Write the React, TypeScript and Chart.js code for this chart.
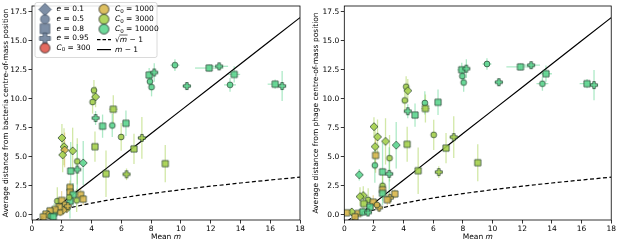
import React, { useEffect, useRef } from "react";
import { Chart, registerables } from "chart.js";
Chart.register(...registerables);

// ---------- axes ----------
const X_TICKS = [0, 2, 4, 6, 8, 10, 12, 14, 16, 18];
const Y_TICKS = [0, 2.5, 5, 7.5, 10, 12.5, 15, 17.5];
const X_MIN = 0;
const X_MAX = 18;
const Y_MIN = -0.45;
const Y_MAX = 18.0;

// ---------- categories ----------
const E_VALUES = [0.1, 0.5, 0.8, 0.95];
const E_SHAPES = ["diamond", "circle", "square", "plus"];
const C0_VALUES = [300, 1000, 3000, 10000];
const C0_COLORS = ["#e05a4f", "#d9b84f", "#a6d24f", "#5ed690"];

// ---------- reference curves (m grid) ----------
const CURVE_M = [0, 0.25, 0.3, 0.4, 0.5, 0.6, 0.75, 1, 1.25, 1.5, 2, 2.5, 3, 4, 5, 6, 7, 8, 10, 12, 14, 16, 18];

// ---------- bacteria panel ----------
const bactM = [7.87, 8.21, 7.92, 8.03, 9.6, 11.9, 12.57, 13.58, 13.3, 10.4, 16.33, 16.8, 8.95, 4.16, 4.27, 4.07, 5.46, 4.27, 4.74, 5.39, 6.31, 5.99, 7.38, 6.85, 4.23, 2.01, 2.15, 2.19, 2.06, 2.73, 3.04, 3.44, 3.04, 2.6, 4.97, 6.35, 2.55, 2.55, 2.77, 3.27, 3.44, 1.7, 1.99, 2.21, 2.55, 2.5, 3.0, 2.33, 2.1, 1.83, 1.48, 1.54, 1.21, 0.94, 1.1, 1.25, 0.76, 1.43, 2.4, 1.9];
const bactD = [12.05, 12.27, 11.49, 11.01, 12.9, 12.65, 12.8, 12.1, 11.2, 11.1, 11.26, 11.1, 4.41, 10.73, 10.17, 9.72, 9.1, 8.34, 7.64, 7.7, 7.89, 6.71, 6.63, 5.68, 5.87, 6.63, 5.87, 5.59, 5.17, 5.51, 4.6, 4.47, 3.9, 3.77, 3.54, 3.49, 2.36, 1.94, 1.74, 1.74, 1.35, 1.18, 1.24, 0.9, 1.18, 1.5, 1.24, 0.54, 0.4, 0.68, 0.17, 0.45, 0.34, 0.06, -0.03, -0.1, -0.17, -0.17, 0.75, 0.2];
const bactE = [0.8, 0.95, 0.5, 0.5, 0.5, 0.8, 0.95, 0.8, 0.5, 0.95, 0.8, 0.95, 0.8, 0.5, 0.1, 0.5, 0.8, 0.95, 0.8, 0.5, 0.8, 0.5, 0.95, 0.8, 0.8, 0.1, 0.1, 0.1, 0.1, 0.1, 0.5, 0.1, 0.95, 0.8, 0.8, 0.95, 0.8, 0.8, 0.8, 0.8, 0.8, 0.5, 0.8, 0.5, 0.8, 0.5, 0.5, 0.1, 0.1, 0.8, 0.8, 0.8, 0.8, 0.8, 0.1, 0.5, 0.8, 0.8, 0.95, 0.5];
const bactC0 = [10000, 10000, 10000, 10000, 10000, 10000, 10000, 10000, 10000, 10000, 10000, 10000, 3000, 3000, 3000, 3000, 3000, 10000, 10000, 10000, 10000, 3000, 3000, 3000, 3000, 3000, 3000, 1000, 3000, 3000, 3000, 10000, 10000, 10000, 3000, 3000, 1000, 1000, 10000, 1000, 1000, 3000, 1000, 1000, 10000, 3000, 3000, 1000, 1000, 1000, 10000, 1000, 1000, 1000, 1000, 10000, 1000, 10000, 1000, 1000];
const bactXErr = [0, 0, 0, 0, 0.3, 0.95, 0.6, 0.4, 0.4, 0.3, 0.5, 0, 0, 0, 0, 0, 0.3, 0, 0, 0, 0, 0, 0.3, 0, 0, 0, 0, 0, 0, 0, 0, 0, 0, 0, 0, 0.25, 0, 0, 0, 0, 0, 0, 0, 0, 0, 0, 0, 0, 0, 0, 0, 0, 0, 0, 0, 0, 0, 0, 0, 0];
const bactYErr = [0.6, 0.8, 0.7, 0.8, 0.5, 0.3, 0.2, 0.7, 0.6, 0.3, 0.4, 1.3, 1.6, 0.9, 0.9, 1.0, 1.2, 0.6, 1.0, 1.0, 1.1, 1.2, 1.8, 1.3, 1.3, 1.2, 1.6, 1.5, 1.5, 2.0, 2.0, 1.9, 2.2, 2.5, 2.0, 0.5, 0.6, 0.6, 1.0, 0.5, 0.5, 1.2, 0.8, 0.6, 1.5, 1.2, 1.0, 0.4, 0.4, 0.6, 0.8, 0.5, 0.3, 0.3, 0.2, 0.3, 0.2, 0.3, 0.4, 0.3];

// ---------- phage panel ----------
const phageM = [1.01, 2.0, 2.24, 2.08, 2.78, 3.5, 2.11, 2.06, 3.05, 2.58, 3.03, 4.24, 4.17, 4.28, 4.08, 4.28, 4.77, 5.43, 5.47, 6.32, 6.03, 6.86, 7.38, 4.98, 6.37, 7.92, 8.23, 7.96, 8.05, 9.62, 11.88, 12.6, 13.6, 13.36, 10.42, 16.37, 16.84, 9.0, 2.58, 2.58, 2.58, 3.41, 3.07, 1.28, 1.06, 1.61, 1.95, 1.32, 1.73, 2.35, 0.5, 0.16, 0.94, 1.24, 0.72, 2.9, 1.6, 2.2];
const phageD = [3.45, 7.6, 6.72, 5.88, 6.33, 6.0, 5.12, 4.26, 4.88, 3.7, 3.53, 6.08, 11.04, 10.7, 9.86, 8.93, 8.6, 9.64, 9.16, 9.7, 6.89, 5.75, 6.7, 3.8, 3.68, 12.5, 12.6, 11.95, 11.4, 13.0, 12.75, 12.9, 12.16, 11.3, 11.43, 11.3, 11.18, 4.49, 2.5, 2.16, 1.85, 1.8, 1.46, 1.66, 1.57, 1.29, 1.09, 0.96, 0.67, 0.62, 0.25, 0.17, 0.12, 0.25, -0.17, 1.3, 0.2, 0.85];
const phageE = [0.1, 0.1, 0.1, 0.1, 0.1, 0.1, 0.8, 0.5, 0.5, 0.8, 0.95, 0.8, 0.5, 0.1, 0.5, 0.95, 0.8, 0.5, 0.8, 0.8, 0.5, 0.8, 0.95, 0.8, 0.95, 0.8, 0.95, 0.5, 0.5, 0.5, 0.8, 0.95, 0.8, 0.5, 0.95, 0.8, 0.95, 0.8, 0.5, 0.8, 0.8, 0.8, 0.95, 0.1, 0.1, 0.5, 0.8, 0.8, 0.8, 0.95, 0.1, 0.8, 0.8, 0.8, 0.8, 0.8, 0.95, 0.5];
const phageC0 = [10000, 3000, 3000, 3000, 3000, 10000, 1000, 10000, 3000, 10000, 10000, 3000, 3000, 3000, 3000, 10000, 10000, 10000, 3000, 10000, 3000, 3000, 3000, 3000, 3000, 10000, 10000, 10000, 10000, 10000, 10000, 10000, 10000, 10000, 10000, 10000, 10000, 3000, 3000, 1000, 10000, 1000, 1000, 3000, 3000, 3000, 1000, 3000, 10000, 1000, 3000, 1000, 1000, 10000, 1000, 1000, 10000, 1000];
const phageXErr = [0, 0, 0, 0, 0, 0, 0, 0, 0, 0, 0, 0, 0, 0, 0, 0, 0, 0, 0.3, 0, 0, 0, 0.3, 0, 0.25, 0.3, 0, 0, 0, 0.3, 0.95, 0.6, 0.4, 0.4, 0.3, 0.5, 0, 0, 0, 0, 0, 0, 0, 0, 0, 0, 0, 0, 0, 0, 0, 0, 0, 0, 0, 0, 0, 0];
const phageYErr = [0.5, 0.8, 1.5, 2.0, 2.0, 2.0, 1.5, 1.5, 2.0, 2.5, 2.3, 1.5, 0.9, 1.0, 1.0, 0.6, 1.0, 1.0, 1.2, 1.1, 1.3, 1.3, 1.8, 2.0, 0.5, 0.6, 0.8, 0.7, 0.8, 0.5, 0.3, 0.2, 0.7, 0.6, 0.3, 0.4, 1.3, 1.6, 1.0, 0.6, 1.0, 0.4, 0.5, 0.8, 0.8, 1.0, 0.6, 0.6, 0.6, 0.4, 0.3, 0.2, 0.2, 0.4, 0.2, 0.5, 0.3, 0.5];

// ---------- styling ----------
const FONT = '"DejaVu Sans", sans-serif';
const FS = 7.5;
const SHAPE_LEGEND_COLOR = "#6f829b";

const markerCache: Record<string, HTMLCanvasElement> = {};
function shapePath(ctx: CanvasRenderingContext2D, shape: string, c: number, k: number) {
  ctx.beginPath();
  if (shape === "circle") {
    ctx.arc(c, c, 2.9 * k, 0, Math.PI * 2);
  } else if (shape === "square") {
    const h = 3.1 * k;
    ctx.rect(c - h, c - h, 2 * h, 2 * h);
  } else if (shape === "diamond") {
    const h = 4.0 * k;
    ctx.moveTo(c, c - h);
    ctx.lineTo(c + h, c);
    ctx.lineTo(c, c + h);
    ctx.lineTo(c - h, c);
    ctx.closePath();
  } else {
    const L = 3.5 * k;
    const w = 1.25 * k;
    ctx.moveTo(c - w, c - L);
    ctx.lineTo(c + w, c - L);
    ctx.lineTo(c + w, c - w);
    ctx.lineTo(c + L, c - w);
    ctx.lineTo(c + L, c + w);
    ctx.lineTo(c + w, c + w);
    ctx.lineTo(c + w, c + L);
    ctx.lineTo(c - w, c + L);
    ctx.lineTo(c - w, c + w);
    ctx.lineTo(c - L, c + w);
    ctx.lineTo(c - L, c - w);
    ctx.lineTo(c - w, c - w);
    ctx.closePath();
  }
}
function marker(shape: string, fill: string, k = 1, stroke = "rgba(35,60,45,0.9)") {
  const key = shape + fill + k + stroke;
  if (markerCache[key]) return markerCache[key];
  const size = Math.ceil(12 * k);
  const cv = document.createElement("canvas");
  cv.width = size;
  cv.height = size;
  const ctx = cv.getContext("2d")!;
  shapePath(ctx, shape, size / 2, k);
  ctx.globalAlpha = 0.9;
  ctx.fillStyle = fill;
  ctx.fill();
  ctx.globalAlpha = 1;
  ctx.lineWidth = 0.8;
  ctx.strokeStyle = stroke;
  ctx.stroke();
  markerCache[key] = cv;
  return cv;
}
const shapeOf = (e: number) => E_SHAPES[E_VALUES.indexOf(e)];
const colorOf = (c: number) => C0_COLORS[C0_VALUES.indexOf(c)];

function hexA(hex: string, a: number) {
  const n = parseInt(hex.slice(1), 16);
  return `rgba(${(n >> 16) & 255},${(n >> 8) & 255},${n & 255},${a})`;
}

type Part = { t: string; it?: boolean; sub?: boolean; over?: boolean };
function drawRich(ctx: CanvasRenderingContext2D, parts: Part[], x: number, y: number, measureOnly = false) {
  let cx = x;
  for (const p of parts) {
    const size = p.sub ? 5.5 : FS;
    ctx.font = `${p.it ? "italic " : ""}${size}px ${FONT}`;
    const w = ctx.measureText(p.t).width;
    if (!measureOnly) {
      ctx.fillText(p.t, cx, y + (p.sub ? 2 : 0));
      if (p.over) {
        ctx.beginPath();
        ctx.moveTo(cx - 0.5, y - 4.6);
        ctx.lineTo(cx + w + 0.5, y - 4.6);
        ctx.lineWidth = 0.6;
        ctx.strokeStyle = "#000";
        ctx.stroke();
      }
    }
    cx += w;
  }
  return cx - x;
}

const errorBarPlugin = {
  id: "errorBars",
  beforeDatasetsDraw(chart: any) {
    const ds = chart.data.datasets[0];
    const xs = chart.scales.x;
    const ys = chart.scales.y;
    const ctx = chart.ctx;
    const a = chart.chartArea;
    ctx.save();
    ctx.beginPath();
    ctx.rect(a.left, a.top, a.right - a.left, a.bottom - a.top);
    ctx.clip();
    ctx.lineWidth = 1.3;
    ds.data.forEach((p: any, i: number) => {
      ctx.strokeStyle = hexA(ds.errColor[i], 0.5);
      const px = xs.getPixelForValue(p.x);
      const py = ys.getPixelForValue(p.y);
      const ye = ds.yErr[i];
      const xe = ds.xErr[i];
      if (ye > 0) {
        ctx.beginPath();
        ctx.moveTo(px, ys.getPixelForValue(p.y - ye));
        ctx.lineTo(px, ys.getPixelForValue(p.y + ye));
        ctx.stroke();
      }
      if (xe > 0) {
        ctx.beginPath();
        ctx.moveTo(xs.getPixelForValue(p.x - xe), py);
        ctx.lineTo(xs.getPixelForValue(p.x + xe), py);
        ctx.stroke();
      }
    });
    ctx.restore();
  },
};

const framePlugin = {
  id: "frame",
  afterDraw(chart: any) {
    const ctx = chart.ctx;
    const a = chart.chartArea;
    ctx.save();
    ctx.strokeStyle = "#000";
    ctx.lineWidth = 0.8;
    ctx.strokeRect(a.left, a.top, a.right - a.left, a.bottom - a.top);
    ctx.fillStyle = "#000";
    ctx.textBaseline = "middle";
    const parts: Part[] = [{ t: "Mean " }, { t: "m", it: true }];
    const w = drawRich(ctx, parts, 0, 0, true);
    drawRich(ctx, parts, (a.left + a.right) / 2 - w / 2, 237.5);
    ctx.restore();
  },
};

const legendPlugin = {
  id: "innerLegend",
  afterDraw(chart: any) {
    if (!chart.options.plugins.innerLegend?.show) return;
    const ctx = chart.ctx;
    ctx.save();
    const bx = 35, by = 2.5, bw = 122, bh = 55, r = 2;
    ctx.beginPath();
    ctx.moveTo(bx + r, by);
    ctx.arcTo(bx + bw, by, bx + bw, by + bh, r);
    ctx.arcTo(bx + bw, by + bh, bx, by + bh, r);
    ctx.arcTo(bx, by + bh, bx, by, r);
    ctx.arcTo(bx, by, bx + bw, by, r);
    ctx.closePath();
    ctx.fillStyle = "rgba(255,255,255,0.85)";
    ctx.fill();
    ctx.strokeStyle = "#d0d0d0";
    ctx.lineWidth = 0.8;
    ctx.stroke();

    ctx.textBaseline = "middle";
    ctx.fillStyle = "#000";
    const rows1 = [9.5, 19.2, 28.8, 38.4, 48];
    const rows2 = [9.3, 19.2, 29.1, 39.6, 49.6];
    const shapeStroke = "rgba(70,85,105,0.95)";
    E_SHAPES.forEach((s, i) => {
      const img = marker(s, SHAPE_LEGEND_COLOR, 1.55, shapeStroke);
      ctx.drawImage(img, 45 - img.width / 2, rows1[i] - img.height / 2);
      ctx.fillStyle = "#000";
      drawRich(ctx, [{ t: "e", it: true }, { t: " = " + E_VALUES[i] }], 56.5, rows1[i]);
    });
    const c0Rows = [rows1[4], rows2[0], rows2[1], rows2[2]];
    const c0X = [45, 104, 104, 104];
    const c0T = [56.5, 115, 115, 115];
    C0_VALUES.forEach((c, i) => {
      const img = marker("circle", C0_COLORS[i], 1.7, "rgba(20,20,20,0.9)");
      ctx.drawImage(img, c0X[i] - img.width / 2, c0Rows[i] - img.height / 2);
      ctx.fillStyle = "#000";
      drawRich(ctx, [{ t: "C", it: true }, { t: "0", sub: true }, { t: " = " + c }], c0T[i], c0Rows[i]);
    });
    ctx.strokeStyle = "#000";
    ctx.lineWidth = 1.2;
    ctx.setLineDash([3.5, 2]);
    ctx.beginPath();
    ctx.moveTo(97, rows2[3]);
    ctx.lineTo(111, rows2[3]);
    ctx.stroke();
    ctx.setLineDash([]);
    ctx.beginPath();
    ctx.moveTo(97, rows2[4]);
    ctx.lineTo(111, rows2[4]);
    ctx.stroke();
    ctx.fillStyle = "#000";
    drawRich(ctx, [{ t: "√" }, { t: "m", it: true, over: true }, { t: " − 1" }], 115, rows2[3]);
    drawRich(ctx, [{ t: "m", it: true }, { t: " − 1" }], 115, rows2[4]);
    ctx.restore();
  },
};

type PanelProps = {
  m: number[]; d: number[]; e: number[]; c0: number[]; xe: number[]; ye: number[];
  yTitle: string; legend: boolean; left: number; width: number; yAxisWidth: number; rightPad: number;
};

function Panel(props: PanelProps) {
  const ref = useRef<HTMLCanvasElement>(null);
  useEffect(() => {
    const { m, d, e, c0, xe, ye } = props;
    const points = m.map((v, i) => ({ x: v, y: d[i] }));
    const styles = m.map((_, i) => marker(shapeOf(e[i]), colorOf(c0[i])));
    const chart = new Chart(ref.current!, {
      type: "scatter",
      data: {
        datasets: [
          {
            data: points,
            pointStyle: styles as any,
            pointRadius: 4,
            pointHoverRadius: 4,
            order: 0,
            xErr: xe,
            yErr: ye,
            errColor: c0.map(colorOf),
          } as any,
          {
            data: CURVE_M.map((v) => ({ x: v, y: v - 1 })),
            showLine: true,
            borderColor: "#000",
            borderWidth: 1.2,
            pointRadius: 0,
            order: 1,
          },
          {
            data: CURVE_M.map((v) => ({ x: v, y: Math.sqrt(v) - 1 })),
            showLine: true,
            borderColor: "#000",
            borderWidth: 1.2,
            borderDash: [4, 2.5],
            pointRadius: 0,
            order: 2,
          },
        ],
      },
      options: {
        animation: false,
        responsive: false,
        maintainAspectRatio: false,
        devicePixelRatio: 1,
        events: [],
        layout: { padding: { left: 0, right: props.rightPad, top: 1.5, bottom: 0 } },
        plugins: {
          legend: { display: false },
          tooltip: { enabled: false },
          innerLegend: { show: props.legend },
        } as any,
        scales: {
          x: {
            type: "linear",
            min: X_MIN,
            max: X_MAX,
            afterBuildTicks: (s: any) => { s.ticks = X_TICKS.map((v) => ({ value: v })); },
            afterFit: (s: any) => { s.height = 22; },
            ticks: { font: { family: FONT, size: FS }, color: "#000", padding: 1, maxRotation: 0, autoSkip: false, callback: (v: any) => String(v) },
            grid: { drawOnChartArea: false, drawTicks: true, tickLength: 3.5, color: "#000", lineWidth: 0.8 },
            border: { display: false },
          },
          y: {
            type: "linear",
            min: Y_MIN,
            max: Y_MAX,
            afterBuildTicks: (s: any) => { s.ticks = Y_TICKS.map((v) => ({ value: v })); },
            afterFit: (s: any) => { s.width = props.yAxisWidth; },
            ticks: { font: { family: FONT, size: FS }, color: "#000", padding: 1.5, autoSkip: false, callback: (v: any) => Number(v).toFixed(1) },
            grid: { drawOnChartArea: false, drawTicks: true, tickLength: 3.5, color: "#000", lineWidth: 0.8 },
            border: { display: false },
            title: { display: true, text: props.yTitle, font: { family: FONT, size: FS }, color: "#000", padding: { top: 1.5, bottom: 0 } },
          },
        },
      },
      plugins: [errorBarPlugin, framePlugin, legendPlugin],
    });
    return () => chart.destroy();
  }, []);
  return (
    <canvas
      ref={ref}
      width={props.width}
      height={242}
      style={{ position: "absolute", left: props.left, top: 0, width: props.width, height: 242 }}
    />
  );
}

export default function App() {
  return (
    <div style={{ position: "fixed", left: 0, top: 0, width: 617, height: 242, background: "#fff", overflow: "hidden" }}>
      <Panel
        m={bactM} d={bactD} e={bactE} c0={bactC0} xe={bactXErr} ye={bactYErr}
        yTitle="Average distance from bacteria centre-of-mass position"
        legend={true} left={0} width={310} yAxisWidth={32} rightPad={10}
      />
      <Panel
        m={phageM} d={phageD} e={phageE} c0={phageC0} xe={phageXErr} ye={phageYErr}
        yTitle="Average distance from phage centre-of-mass position"
        legend={false} left={310} width={307} yAxisWidth={34.3} rightPad={5}
      />
    </div>
  );
}
